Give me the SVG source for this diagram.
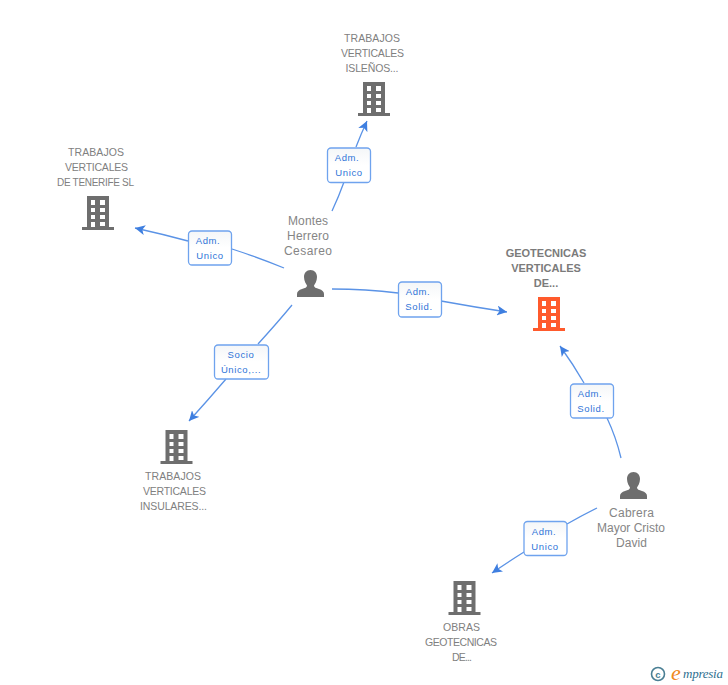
<svg xmlns="http://www.w3.org/2000/svg" width="728" height="685" viewBox="0 0 728 685">
<defs>
<linearGradient id="lg" x1="0" y1="0" x2="0" y2="1"><stop offset="0" stop-color="#f4f6f8"/><stop offset="0.5" stop-color="#ffffff"/><stop offset="1" stop-color="#ffffff"/></linearGradient>
<marker id="arr" viewBox="0 0 11 10" refX="10" refY="5" markerWidth="11" markerHeight="10" markerUnits="userSpaceOnUse" orient="auto"><path d="M0 0L10 5L0 10L2.500 5Z" fill="#3f7fe0"/></marker>
<symbol id="bld" viewBox="0 0 32 34" width="32" height="34" overflow="visible">
<path fill-rule="evenodd" d="M5 0H27V31H32V34H0V31H5Z M9 4V9H13V4Z M18 4V9H23V4Z M9 12V16H13V12Z M18 12V16H23V12Z M9 19V23H13V19Z M18 19V23H23V19Z M9 26V31H13V26Z M18 26V30H23V26Z"/>
</symbol>
<symbol id="psn" viewBox="0 0 27 27" width="27" height="27" overflow="visible">
<path d="M13.500 0C17.500 0 20 3 20 7C20 11 18 14 17 15.500C17 17.500 19 18 22 19C25 20 27 21.500 27 24V27H0V24C0 21.500 2 20 5 19C8 18 10 17.500 10 15.500C9 14 7 11 7 7C7 3 9.500 0 13.500 0Z" fill="#6e6e6e"/>
</symbol>
</defs>
<style>
.c{fill:none;stroke:#5b93e6;stroke-width:1.300}
.a{marker-end:url(#arr)}
.b{fill:url(#lg);stroke:#6fa3ee;stroke-width:1.300}
.lt{font:9.500px "Liberation Sans",Arial,sans-serif;fill:#2f74d8;text-anchor:middle;letter-spacing:.6px}
.n{font:10.500px "Liberation Sans",Arial,sans-serif;fill:#808080;text-anchor:middle}
.s{font-size:10px}
.p{font:12px "Liberation Sans",Arial,sans-serif;fill:#858585;text-anchor:middle}
.m{font:bold 11px "Liberation Sans",Arial,sans-serif;fill:#7b7b7b;text-anchor:middle}
.g{fill:#6e6e6e}
.o{fill:#ff5a2c}
</style>
<g id="connectors">
<path class="c" d="M332 211Q339 196 344 182"/>
<path class="c a" d="M356 147Q361 134 367 121"/>
<path class="c" d="M284 268Q260 258 232 249"/>
<path class="c a" d="M188 241Q162 234 135 228"/>
<path class="c" d="M292 305Q278 322 258 344"/>
<path class="c a" d="M226 379Q208 400 189 421"/>
<path class="c" d="M332 289Q366 289 398 293"/>
<path class="c a" d="M441 301Q474 307 507 312"/>
<path class="c" d="M621 458Q616 437 607 418"/>
<path class="c a" d="M584 383Q573 364 560 346"/>
<path class="c" d="M597 508Q581 516 567 524"/>
<path class="c a" d="M524 552Q508 562 492 573"/>
</g>
<g id="edge-labels">
<g><rect class="b" x="327.500" y="148" width="43" height="34.500" rx="3.500"/><text class="lt" x="347" y="161">Adm.</text><text class="lt" x="349" y="176">Unico</text></g>
<g><rect class="b" x="188.500" y="231" width="43" height="34" rx="3.500"/><text class="lt" x="208" y="244">Adm.</text><text class="lt" x="210" y="259">Unico</text></g>
<g><rect class="b" x="214.500" y="345" width="54" height="34" rx="3.500"/><text class="lt" x="241" y="358">Socio</text><text class="lt" x="241" y="373">Único,...</text></g>
<g><rect class="b" x="398.500" y="282" width="43" height="35" rx="3.500"/><text class="lt" x="418" y="295">Adm.</text><text class="lt" x="419" y="310">Solid.</text></g>
<g><rect class="b" x="570.500" y="384" width="43" height="34" rx="3.500"/><text class="lt" x="590" y="397">Adm.</text><text class="lt" x="591" y="412">Solid.</text></g>
<g><rect class="b" x="524" y="521.500" width="43" height="34" rx="3.500"/><text class="lt" x="544" y="535">Adm.</text><text class="lt" x="545" y="550">Unico</text></g>
</g>
<g id="n-islenos"><text class="n" x="372" y="42" textLength="56">TRABAJOS</text><text class="n" x="372.500" y="57" textLength="63">VERTICALES</text><text class="n" x="372" y="72" textLength="53">ISLEÑOS...</text><use href="#bld" class="g" x="358" y="82"/></g>
<g id="n-tenerife"><text class="n" x="96" y="156" textLength="56">TRABAJOS</text><text class="n" x="96.500" y="171" textLength="63">VERTICALES</text><text class="n s" x="95.500" y="186" textLength="77">DE TENERIFE SL</text><use href="#bld" class="g" x="82" y="196"/></g>
<g id="n-insulares"><use href="#bld" class="g" x="160.500" y="430"/><text class="n" x="173" y="480" textLength="56">TRABAJOS</text><text class="n" x="174.500" y="495" textLength="63">VERTICALES</text><text class="n" x="173.500" y="510" textLength="67">INSULARES...</text></g>
<g id="n-obras"><use href="#bld" class="g" x="448.500" y="581"/><text class="n" x="461.500" y="631" textLength="37">OBRAS</text><text class="n" x="461" y="646" textLength="72">GEOTECNICAS</text><text class="n" x="462" y="661" textLength="20">DE...</text></g>
<g id="n-geotecnicas"><text class="m" x="546" y="257">GEOTECNICAS</text><text class="m" x="546" y="272">VERTICALES</text><text class="m" x="546" y="287">DE...</text><use href="#bld" class="o" x="533" y="297"/></g>
<g id="n-montes"><text class="p" x="308" y="225" textLength="40">Montes</text><text class="p" x="308" y="240" textLength="42">Herrero</text><text class="p" x="308" y="255" textLength="48">Cesareo</text><use href="#psn" x="297" y="270"/></g>
<g id="n-cabrera"><use href="#psn" x="620" y="472"/><text class="p" x="631.500" y="517" textLength="45">Cabrera</text><text class="p" x="631" y="532" textLength="68">Mayor Cristo</text><text class="p" x="631.500" y="547" textLength="31">David</text></g>
<g id="logo"><circle cx="658" cy="674" r="6.500" fill="none" stroke="#4a7f94" stroke-width="1.600"/><text x="658" y="677.500" font-family="Liberation Sans,sans-serif" font-size="9.500" font-weight="bold" fill="#4a7f94" text-anchor="middle">c</text><text x="671" y="680" font-family="Liberation Serif,serif" font-style="italic" font-size="22" fill="#f08a1c">e</text><text x="683" y="678" font-family="Liberation Serif,serif" font-style="italic" font-size="13" fill="#2f6f8f" textLength="40">mpresia</text></g>
</svg>
